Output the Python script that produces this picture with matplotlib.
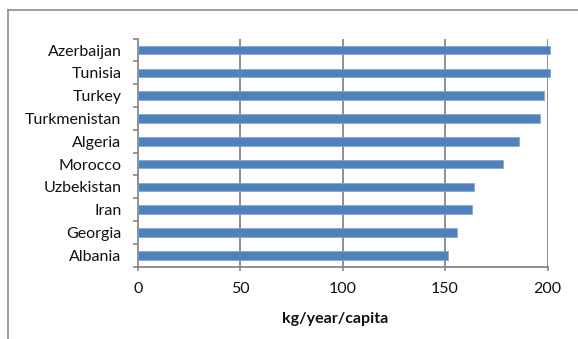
import matplotlib
matplotlib.use("Agg")
import matplotlib.pyplot as plt
from matplotlib.lines import Line2D
import numpy as np

# Per-capita consumption, listed bottom to top
countries = ["Albania", "Georgia", "Iran", "Uzbekistan", "Morocco",
             "Algeria", "Turkmenistan", "Turkey", "Tunisia", "Azerbaijan"]
values = [151.5, 155.7, 163.0, 164.0, 178.5, 186.1, 196.1, 198.4, 201.3, 201.3]
xticks = [0, 50, 100, 150, 200]
xlabel = "kg/year/capita"

W, H = 578, 339
DPI = 100
plt.rcParams["font.family"] = ["Lato", "DejaVu Sans"]

fig = plt.figure(figsize=(W / DPI, H / DPI), dpi=DPI)
ax = fig.add_axes([138 / W, 1 - 266.7 / H, (547.5 - 138) / W, (266.7 - 38.7) / H])

grey = "#878787"
txt = "#111111"
y = np.arange(len(countries))
ax.barh(y, values, height=0.37, color="#4F81BD", edgecolor="#7fa3d1",
        linewidth=0.5, clip_on=False, zorder=3)

ax.set_xlim(0, 200)
ax.set_ylim(-0.5, len(countries) - 0.5)
ax.set_xticks(xticks)
ax.set_xticklabels([str(t) for t in xticks], fontsize=11.5, color=txt)
ax.set_yticks(y)
ax.set_yticklabels(countries, fontsize=11.5, color=txt)
ax.set_yticks(np.arange(-0.5, len(countries), 1.0), minor=True)

ax.tick_params(axis="y", which="major", length=0, pad=12)
ax.tick_params(axis="y", which="minor", length=3.5, width=1.2, color=grey, direction="out")
ax.tick_params(axis="x", which="major", length=3, width=1.2, color=grey, direction="out", pad=8)

for t in xticks[1:]:
    ax.axvline(t, color=grey, linewidth=1.3, zorder=1)

for side in ("top", "right"):
    ax.spines[side].set_visible(False)
for side in ("left", "bottom"):
    ax.spines[side].set_color(grey)
    ax.spines[side].set_linewidth(1.3)

fig.text(335 / W, 1 - 319.5 / H, xlabel, ha="center", va="center",
         fontsize=11.5, fontweight="bold", color=txt)

# Chart-area frame along the top and left edges
fig.add_artist(Line2D([7.5 / W, 1.0], [1 - 9.7 / H, 1 - 9.7 / H],
                      transform=fig.transFigure, color="#8c8c8c", linewidth=1.2))
fig.add_artist(Line2D([7.5 / W, 7.5 / W], [1 - 9.7 / H, 0.0],
                      transform=fig.transFigure, color="#8c8c8c", linewidth=1.2))

fig.savefig("out.png", dpi=DPI)
